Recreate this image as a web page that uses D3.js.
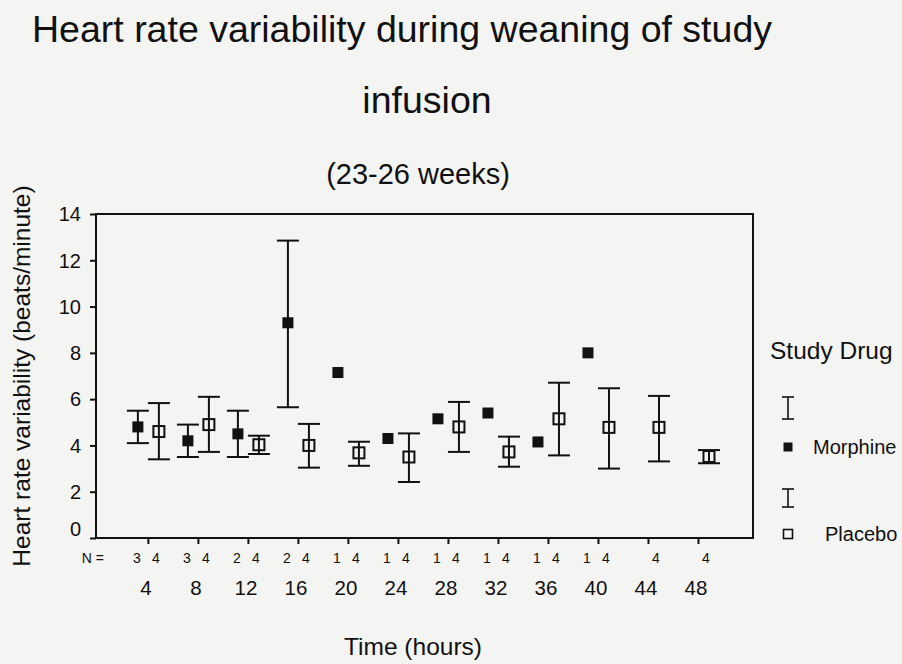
<!DOCTYPE html>
<html>
<head>
<meta charset="utf-8">
<script src="https://cdn.jsdelivr.net/npm/d3@7"></script>
<style>
  body { margin: 0; background: #f4f4f3; }
  text { font-family: "Liberation Sans", Arial, sans-serif; fill: #111; }
</style>
</head>
<body>
<svg id="chart"></svg>
<script>
// hours of weaning
let hours = [4, 8, 12, 16, 20, 24, 28, 32, 36, 40, 44, 48];

// morphine: mean and error bar ends (none where N = 1 or no data)
let morphineMean = [4.8, 4.2, 4.5, 9.3, 7.15, 4.3, 5.15, 5.4, 4.15, 8.0, null, null];
let morphineLow = [4.1, 3.5, 3.5, 5.65, null, null, null, null, null, null, null, null];
let morphineHigh = [5.5, 4.9, 5.5, 12.85, null, null, null, null, null, null, null, null];
let morphineN = [3, 3, 2, 2, 1, 1, 1, 1, 1, 1, null, null];

// placebo
let placeboMean = [4.6, 4.9, 4.03, 4.0, 3.68, 3.5, 4.8, 3.72, 5.15, 4.78, 4.78, 3.52];
let placeboLow = [3.4, 3.72, 3.63, 3.04, 3.12, 2.42, 3.72, 3.08, 3.57, 3.0, 3.31, 3.23];
let placeboHigh = [5.83, 6.1, 4.42, 4.93, 4.16, 4.52, 5.88, 4.38, 6.71, 6.47, 6.14, 3.8];
let placeboN = [4, 4, 4, 4, 4, 4, 4, 4, 4, 4, 4, 4];

let yTicks = [0, 2, 4, 6, 8, 10, 12, 14];

let width = 902;
let height = 664;
let plotLeft = 96, plotRight = 753, plotTop = 214, plotBottom = 538;
let ink = "#111";

let svg = d3.select("#chart").attr("width", width).attr("height", height);

let x = d3.scaleLinear().domain([-0.15, 52.4]).range([plotLeft, plotRight]);
let y = d3.scaleLinear().domain([0, 14]).range([plotBottom, plotTop]);

let morphine = hours.map((h, i) => ({
  h: h, mean: morphineMean[i], low: morphineLow[i], high: morphineHigh[i], n: morphineN[i]
}));
let placebo = hours.map((h, i) => ({
  h: h, mean: placeboMean[i], low: placeboLow[i], high: placeboHigh[i], n: placeboN[i]
}));
let mOff = -10, pOff = 11;

// titles
svg.append("text").attr("x", 402).attr("y", 42)
  .attr("text-anchor", "middle").style("font-size", "37.5px")
  .text("Heart rate variability during weaning of study");
svg.append("text").attr("x", 427).attr("y", 113)
  .attr("text-anchor", "middle").style("font-size", "37.5px")
  .text("infusion");
svg.append("text").attr("x", 418).attr("y", 184)
  .attr("text-anchor", "middle").style("font-size", "29px")
  .text("(23-26 weeks)");

// frame
svg.append("rect")
  .attr("x", plotLeft).attr("y", plotTop)
  .attr("width", plotRight - plotLeft).attr("height", plotBottom - plotTop)
  .style("fill", "none").style("stroke", ink).style("stroke-width", 2);

// y axis
let yAxis = d3.axisLeft(y).tickValues(yTicks).tickSize(6).tickPadding(9);
let gy = svg.append("g").attr("transform", `translate(${plotLeft},0)`).call(yAxis);
gy.select(".domain").remove();
gy.selectAll(".tick line").style("stroke", ink).style("stroke-width", 2);
gy.selectAll(".tick text").style("font-size", "20px").style("fill", ink)
  .style("font-family", "Liberation Sans, Arial, sans-serif")
  .attr("dy", (d) => (d == 0 ? "-0.15em" : "0.34em"));

// x axis
let xAxis = d3.axisBottom(x).tickValues(hours).tickSize(6).tickFormat("");
let gx = svg.append("g").attr("transform", `translate(0,${plotBottom})`).call(xAxis);
gx.select(".domain").remove();
gx.selectAll(".tick line").style("stroke", ink).style("stroke-width", 2);

svg.append("g").selectAll("text")
  .data(hours).join("text")
  .attr("x", (d) => x(d) - 2).attr("y", 595)
  .attr("text-anchor", "middle").style("font-size", "20.5px")
  .text((d) => d);

// N row
svg.append("text").attr("x", 104).attr("y", 563)
  .attr("text-anchor", "end").style("font-size", "14px").text("N =");
svg.append("g").selectAll("text")
  .data(morphine.filter((d) => d.n != null)).join("text")
  .attr("x", (d) => x(d.h) - 11).attr("y", 563)
  .attr("text-anchor", "middle").style("font-size", "14px")
  .text((d) => d.n);
svg.append("g").selectAll("text")
  .data(placebo).join("text")
  .attr("x", (d) => x(d.h) + 8).attr("y", 563)
  .attr("text-anchor", "middle").style("font-size", "14px")
  .text((d) => d.n);

svg.append("text").attr("x", 413).attr("y", 655)
  .attr("text-anchor", "middle").style("font-size", "24.5px")
  .text("Time (hours)");

svg.append("text")
  .attr("transform", "translate(30,376) rotate(-90)")
  .attr("text-anchor", "middle").style("font-size", "24.5px")
  .text("Heart rate variability (beats/minute)");

// error bars
function errorBars(data, off) {
  let g = svg.append("g")
    .style("stroke", ink).style("stroke-width", 2).style("fill", "none");
  let bars = data.filter((d) => d.low != null);
  g.selectAll(".stem").data(bars).join("line")
    .attr("x1", (d) => x(d.h) + off).attr("x2", (d) => x(d.h) + off)
    .attr("y1", (d) => y(d.low)).attr("y2", (d) => y(d.high));
  g.selectAll(".capLow").data(bars).join("line")
    .attr("x1", (d) => x(d.h) + off - 11).attr("x2", (d) => x(d.h) + off + 11)
    .attr("y1", (d) => y(d.low)).attr("y2", (d) => y(d.low));
  g.selectAll(".capHigh").data(bars).join("line")
    .attr("x1", (d) => x(d.h) + off - 11).attr("x2", (d) => x(d.h) + off + 11)
    .attr("y1", (d) => y(d.high)).attr("y2", (d) => y(d.high));
}
errorBars(morphine, mOff);
errorBars(placebo, pOff);

// markers
svg.append("g").selectAll("rect")
  .data(morphine.filter((d) => d.mean != null)).join("rect")
  .attr("x", (d) => x(d.h) + mOff - 5.5).attr("y", (d) => y(d.mean) - 5.5)
  .attr("width", 11).attr("height", 11)
  .style("fill", ink);
svg.append("g").selectAll("rect")
  .data(placebo).join("rect")
  .attr("x", (d) => x(d.h) + pOff - 5.5).attr("y", (d) => y(d.mean) - 5.5)
  .attr("width", 11).attr("height", 11)
  .style("fill", "none").style("stroke", ink).style("stroke-width", 2);

// legend
let lg = svg.append("g");
lg.append("text").attr("x", 770).attr("y", 359)
  .style("font-size", "24.5px").text("Study Drug");
[[397, 419], [489, 507]].forEach((r) => {
  lg.append("line").attr("x1", 788).attr("x2", 788).attr("y1", r[0]).attr("y2", r[1])
    .style("stroke", ink).style("stroke-width", 1.6);
  lg.append("line").attr("x1", 782).attr("x2", 794).attr("y1", r[0]).attr("y2", r[0])
    .style("stroke", ink).style("stroke-width", 1.6);
  lg.append("line").attr("x1", 782).attr("x2", 794).attr("y1", r[1]).attr("y2", r[1])
    .style("stroke", ink).style("stroke-width", 1.6);
});
lg.append("rect").attr("x", 783.5).attr("y", 442.5).attr("width", 9).attr("height", 9)
  .style("fill", ink);
lg.append("text").attr("x", 813).attr("y", 454)
  .style("font-size", "20px").text("Morphine");
lg.append("rect").attr("x", 783.5).attr("y", 529.5).attr("width", 9).attr("height", 9)
  .style("fill", "none").style("stroke", ink).style("stroke-width", 1.6);
lg.append("text").attr("x", 825).attr("y", 541)
  .style("font-size", "20px").text("Placebo");
</script>
</body>
</html>
